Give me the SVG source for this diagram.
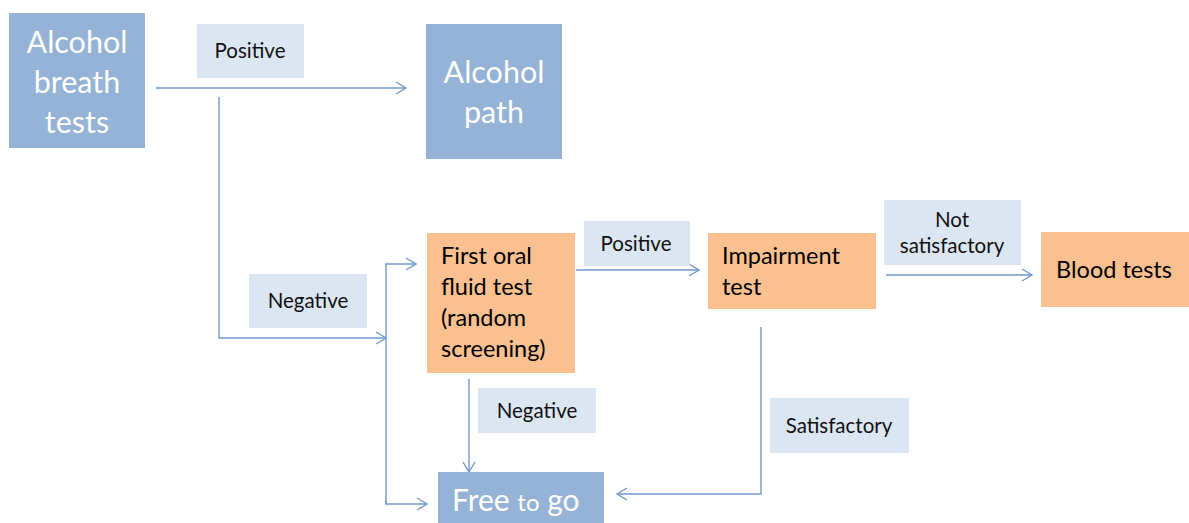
<svg xmlns="http://www.w3.org/2000/svg" width="1189" height="523" viewBox="0 0 1189 523">
<defs>
<style>
.blue{fill:#95B3D7;}
.orange{fill:#FAC090;}
.lbl{fill:#DCE6F2;}
.wt{font-family:Lato,"Open Sans",sans-serif;fill:#ffffff;font-size:30.5px;text-anchor:middle;}
.bt{font-family:Lato,"Open Sans",sans-serif;fill:#000000;font-size:23.5px;}
.lt{font-family:Lato,"Open Sans",sans-serif;fill:#111111;font-size:20.5px;text-anchor:middle;}
.con{fill:none;stroke:#7199CC;stroke-width:1.4;}
</style>
<marker id="arr" viewBox="0 0 12 14" refX="11" refY="7" markerWidth="12" markerHeight="14" markerUnits="userSpaceOnUse" orient="auto">
<path d="M1,1 L11,7 L1,13" fill="none" stroke="#7199CC" stroke-width="1.4"/>
</marker>
</defs>
<rect width="1189" height="523" fill="#ffffff"/>
<g id="connectors">
<path class="con" d="M156,88 H406" marker-end="url(#arr)"/>
<path class="con" d="M219,97 V338 H386" marker-end="url(#arr)"/>
<path class="con" d="M386,504 V264 H416" marker-end="url(#arr)"/>
<path class="con" d="M386,500 V504 H427" marker-end="url(#arr)"/>
<path class="con" d="M576,270 H699" marker-end="url(#arr)"/>
<path class="con" d="M886,275 H1032" marker-end="url(#arr)"/>
<path class="con" d="M469,379 V472" marker-end="url(#arr)"/>
<path class="con" d="M761,327 V494 H617" marker-end="url(#arr)"/>
</g>
<g id="node-breath">
<rect class="blue" x="9" y="13" width="136" height="135"/>
<text class="wt" x="77" y="53">Alcohol</text>
<text class="wt" x="77" y="93">breath</text>
<text class="wt" x="77" y="133">tests</text>
</g>
<g id="label-positive1">
<rect class="lbl" x="197" y="24" width="107" height="54"/>
<text class="lt" x="250" y="58">Positive</text>
</g>
<g id="node-alcohol-path">
<rect class="blue" x="426" y="24" width="136" height="135"/>
<text class="wt" x="494" y="83">Alcohol</text>
<text class="wt" x="494" y="123">path</text>
</g>
<g id="label-negative1">
<rect class="lbl" x="249" y="274" width="118" height="54"/>
<text class="lt" x="308" y="308">Negative</text>
</g>
<g id="node-oral">
<rect class="orange" x="427" y="233" width="148" height="140"/>
<text class="bt" x="441" y="264">First oral</text>
<text class="bt" x="441" y="295">fluid test</text>
<text class="bt" x="441" y="326">(random</text>
<text class="bt" x="441" y="357">screening)</text>
</g>
<g id="label-positive2">
<rect class="lbl" x="584" y="221" width="106" height="45"/>
<text class="lt" x="636" y="251">Positive</text>
</g>
<g id="node-impairment">
<rect class="orange" x="708" y="233" width="168" height="76"/>
<text class="bt" x="722" y="264">Impairment</text>
<text class="bt" x="722" y="295">test</text>
</g>
<g id="label-notsat">
<rect class="lbl" x="884" y="200" width="137" height="65"/>
<text class="lt" x="952" y="227">Not</text>
<text class="lt" x="952" y="253">satisfactory</text>
</g>
<g id="node-blood">
<rect class="orange" x="1041" y="232" width="148" height="75"/>
<text class="bt" x="1114" y="278" text-anchor="middle">Blood tests</text>
</g>
<g id="label-negative2">
<rect class="lbl" x="478" y="388" width="118" height="45"/>
<text class="lt" x="537" y="418">Negative</text>
</g>
<g id="label-satisfactory">
<rect class="lbl" x="770" y="398" width="139" height="55"/>
<text class="lt" x="839" y="433">Satisfactory</text>
</g>
<g id="node-free">
<rect class="blue" x="438" y="472" width="166" height="51"/>
<text x="452" y="511" style="font-family:Lato,'Open Sans',sans-serif;fill:#ffffff;font-size:30px;">Free <tspan style="font-size:24px;">to</tspan> go</text>
</g>
</svg>
